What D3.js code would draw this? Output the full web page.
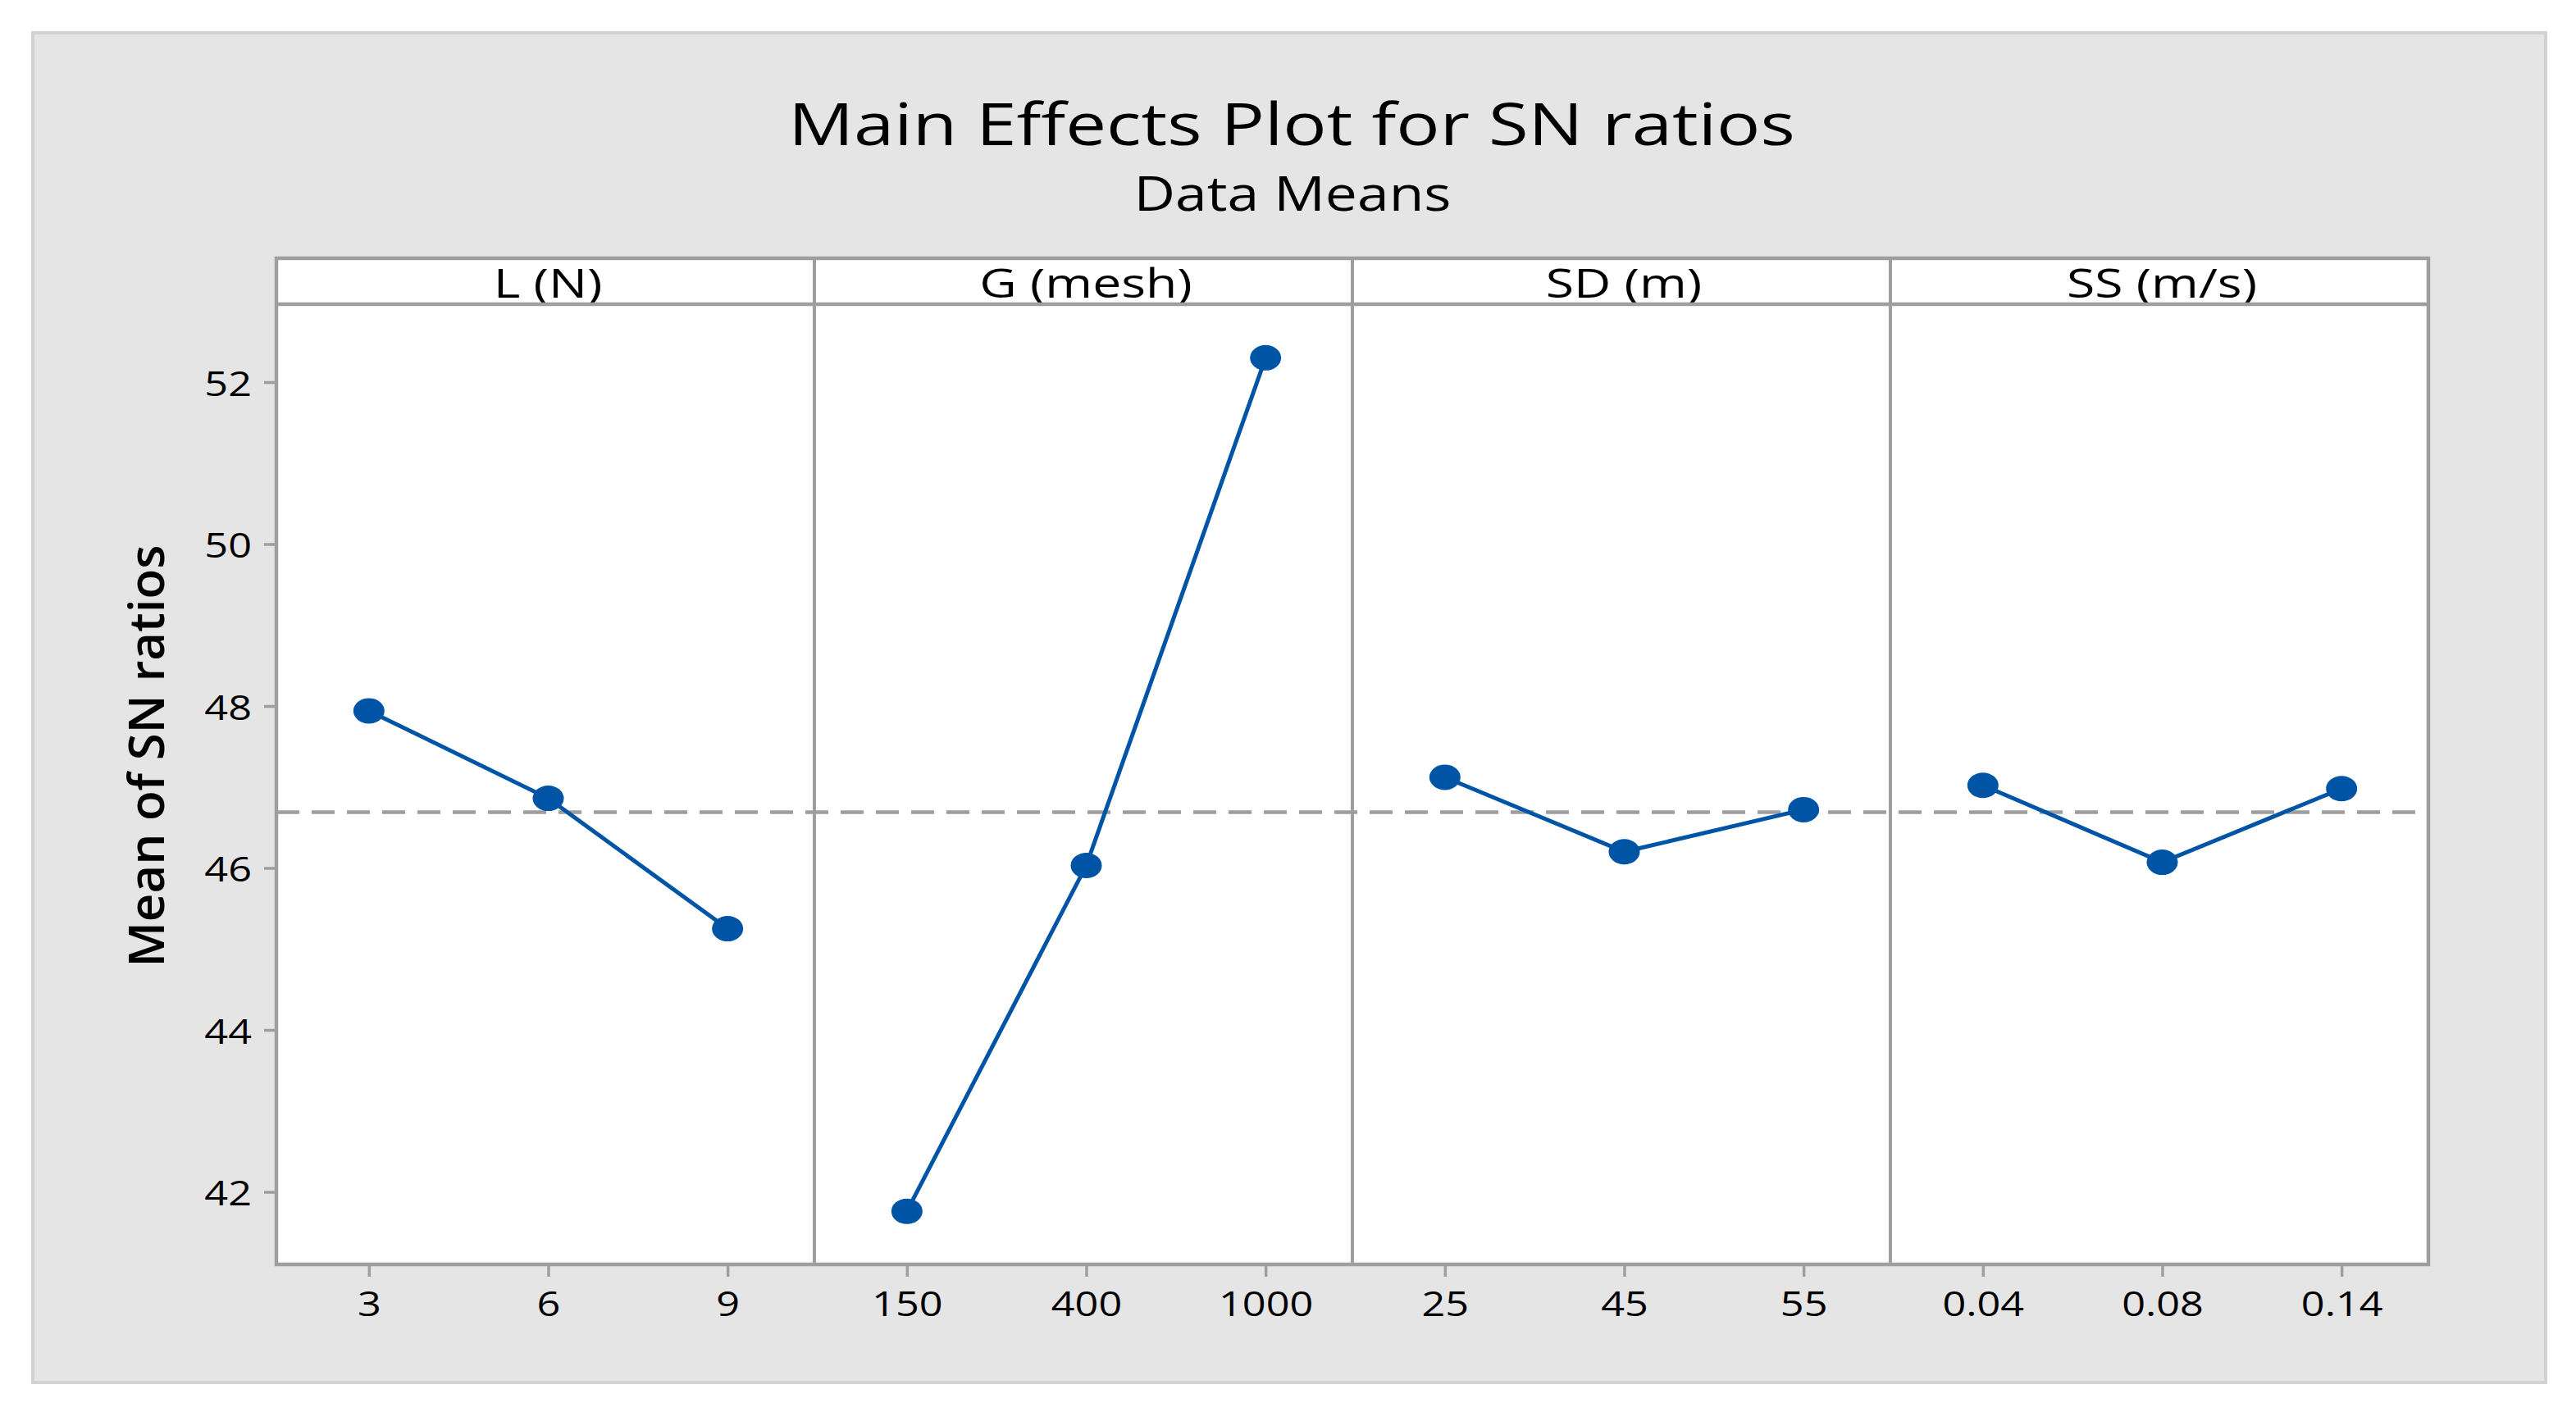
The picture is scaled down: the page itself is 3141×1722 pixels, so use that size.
<!DOCTYPE html>
<html>
<head>
<meta charset="utf-8">
<script src="https://cdn.jsdelivr.net/npm/d3@7"></script>
<style>
  body { margin: 0; background: #ffffff; }
  svg { display: block; }
</style>
</head>
<body>
<script>
//## Data

const factors = ["L (N)", "G (mesh)", "SD (m)", "SS (m/s)"];
const levels = [
  ["3", "6", "9"],
  ["150", "400", "1000"],
  ["25", "45", "55"],
  ["0.04", "0.08", "0.14"]
];
const snMeans = [
  [47.94, 46.86, 45.25],
  [41.76, 46.03, 52.30],
  [47.12, 46.20, 46.72],
  [47.02, 46.07, 46.98]
];
const yTicks = [42, 44, 46, 48, 50, 52];

//## Layout

const width = 3141;
const height = 1722;
const plot = { left: 337, right: 2961, stripTop: 315, top: 371, bottom: 1542 };
const fontFamily = "'Open Sans', 'DejaVu Sans', sans-serif";
const stretch = 1.2; // the reference text is a bit wide
const grey = "#9e9e9e";
const blue = "#0054a6";
const shift = 3.5; // points sit slightly right of panel centres

const svg = d3.select("body").append("svg")
  .attr("width", width)
  .attr("height", height);

// outer frame
svg.append("rect")
  .attr("x", 40).attr("y", 40)
  .attr("width", 3064).attr("height", 1646)
  .attr("fill", "#e5e5e5")
  .attr("stroke", "#d2d2d2")
  .attr("stroke-width", 4);

// titles
svg.append("text")
  .attr("transform", `translate(1575,177) scale(1.25,1)`)
  .attr("text-anchor", "middle")
  .style("font-family", fontFamily)
  .style("font-size", "71px")
  .style("font-weight", 500)
  .text("Main Effects Plot for SN ratios");

svg.append("text")
  .attr("transform", `translate(1576,257) scale(1.18,1)`)
  .attr("text-anchor", "middle")
  .style("font-family", fontFamily)
  .style("font-size", "59px")
  .style("font-weight", 500)
  .text("Data Means");

//## Scales

const panel = d3.scaleBand()
  .domain(factors)
  .range([plot.left, plot.right]);

const y = d3.scaleLinear()
  .domain([41.104, 52.962])
  .range([plot.bottom, plot.top]);

const grandMean = d3.mean(snMeans.flat());

// white plot area incl. strip
svg.append("rect")
  .attr("x", plot.left).attr("y", plot.stripTop)
  .attr("width", plot.right - plot.left)
  .attr("height", plot.bottom - plot.stripTop)
  .attr("fill", "#ffffff");

// reference line at the overall mean
svg.append("line")
  .attr("x1", plot.left).attr("x2", plot.right)
  .attr("y1", y(grandMean)).attr("y2", y(grandMean))
  .attr("stroke", grey)
  .attr("stroke-width", 4.5)
  .attr("stroke-dasharray", "28,15");

//## Panels

factors.forEach((f, i) => {
  const x0 = panel(f);
  const x = d3.scalePoint()
    .domain(levels[i])
    .range([x0 + shift, x0 + panel.bandwidth() + shift])
    .padding(0.5);

  const pts = levels[i].map((lv, j) => ({ lv, v: snMeans[i][j] }));

  const g = svg.append("g");

  g.append("path")
    .datum(pts)
    .attr("fill", "none")
    .attr("stroke", blue)
    .attr("stroke-width", 5)
    .attr("d", d3.line().x(d => x(d.lv)).y(d => y(d.v)));

  g.selectAll("ellipse")
    .data(pts)
    .join("ellipse")
    .attr("cx", d => x(d.lv))
    .attr("cy", d => y(d.v))
    .attr("rx", 19)
    .attr("ry", 15.5)
    .attr("fill", blue);

  // strip label
  g.append("text")
    .attr("transform", `translate(${x0 + panel.bandwidth() / 2 + 3},363) scale(1.25,1)`)
    .attr("text-anchor", "middle")
    .style("font-family", fontFamily)
    .style("font-size", "50px")
    .style("font-weight", 500)
    .text(f);

  // x axis for this panel
  const ax = svg.append("g")
    .attr("transform", `translate(0,${plot.bottom})`)
    .call(d3.axisBottom(x).tickSize(15).tickPadding(0));
  ax.select(".domain").remove();
  ax.selectAll(".tick line")
    .attr("stroke", grey)
    .attr("stroke-width", 3.5);
  ax.selectAll(".tick text")
    .attr("y", 0).attr("dy", null)
    .attr("transform", `translate(0,63) scale(${stretch},1)`)
    .attr("fill", "#000")
    .style("font-family", fontFamily)
    .style("font-size", "42px")
    .style("font-weight", 500);
});

//## Y axis

const ay = svg.append("g")
  .attr("transform", `translate(${plot.left},0)`)
  .call(d3.axisLeft(y).tickValues(yTicks).tickSize(15).tickPadding(0));
ay.select(".domain").remove();
ay.selectAll(".tick line")
  .attr("stroke", grey)
  .attr("stroke-width", 3.5);
ay.selectAll(".tick text")
  .attr("x", 0).attr("dy", null)
  .attr("dominant-baseline", "central")
  .attr("transform", `translate(-30,0) scale(${stretch},1)`)
  .attr("fill", "#000")
  .style("font-family", fontFamily)
  .style("font-size", "42px")
  .style("font-weight", 500);

svg.append("text")
  .attr("transform", "translate(200,922) rotate(-90)")
  .attr("text-anchor", "middle")
  .style("font-family", fontFamily)
  .style("font-size", "60px")
  .style("font-weight", 600)
  .text("Mean of SN ratios");

//## Frame lines

svg.append("rect")
  .attr("x", plot.left).attr("y", plot.stripTop)
  .attr("width", plot.right - plot.left)
  .attr("height", plot.bottom - plot.stripTop)
  .attr("fill", "none")
  .attr("stroke", grey)
  .attr("stroke-width", 4.5);

svg.append("line")
  .attr("x1", plot.left).attr("x2", plot.right)
  .attr("y1", plot.top).attr("y2", plot.top)
  .attr("stroke", grey)
  .attr("stroke-width", 4.5);

svg.selectAll(".divider")
  .data(factors.slice(1))
  .join("line")
  .attr("class", "divider")
  .attr("x1", d => panel(d)).attr("x2", d => panel(d))
  .attr("y1", plot.stripTop).attr("y2", plot.bottom)
  .attr("stroke", grey)
  .attr("stroke-width", 4);
</script>
</body>
</html>
